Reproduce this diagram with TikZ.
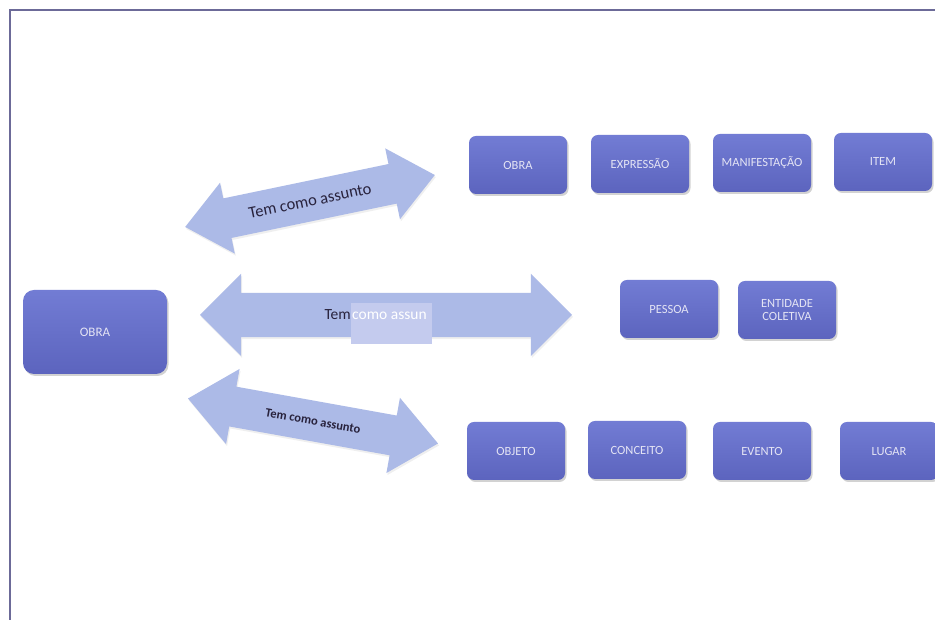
\documentclass[tikz,border=0pt]{standalone}
\usepackage{fontspec}
\setmainfont{Carlito}
\usetikzlibrary{shapes.arrows,shadows}
\definecolor{boxtop}{RGB}{114,124,212}
\definecolor{boxbot}{RGB}{92,100,190}
\definecolor{boxtext}{RGB}{228,228,244}
\definecolor{arrowfill}{RGB}{172,186,231}
\definecolor{framecol}{RGB}{108,106,152}
\definecolor{patchfill}{RGB}{196,203,238}
\definecolor{labeltext}{RGB}{40,34,60}
\tikzset{
	entity/.style={
			rounded corners=7pt, top color=boxtop, bottom color=boxbot,
			text=boxtext, minimum width=98pt, minimum height=58pt, align=center,
			font=\fontsize{12.5}{13}\selectfont,
			drop shadow={opacity=0.35, shadow xshift=1.5pt, shadow yshift=-2pt}
		},
	relation/.style={
			double arrow, fill=arrowfill, inner xsep=0pt, minimum width=0pt,
			drop shadow={opacity=0.12, shadow xshift=1pt, shadow yshift=-2pt}
		},
	rellabel/.style={text=labeltext, font=\fontsize{#1}{#1}\selectfont}
}

\begin{document}
\begin{tikzpicture}[x=1pt,y=1pt]
		\useasboundingbox (0,0) rectangle (935,620);
		\fill[white] (0,0) rectangle (935,620);
		\draw [color=framecol,line width=2pt] (10,0) -- (10,610) -- (935,610);

		% the three relations
		\node [relation, rotate=11.75, inner ysep=20pt, double arrow head extend=16pt,
			double arrow tip angle=80, minimum height=255pt] (topArrow) at (310,419) {};
		\node [relation, inner ysep=22pt, double arrow head extend=19pt,
			double arrow tip angle=90, minimum height=372pt] (midArrow) at (386,305) {};
		\node [relation, rotate=-10.2, inner ysep=20pt, double arrow head extend=18pt,
			double arrow tip angle=80, minimum height=254pt] (lowArrow) at (313,199) {};

		\node [rellabel=16.5, rotate=11.75] (topLabel) at (topArrow.center) {Tem como assunto};
		\node [rellabel=15.5, anchor=base east, inner sep=0pt] (midLabel) at (351,300) {Tem};
		\node [fill=patchfill, minimum width=81pt, minimum height=41pt, inner sep=0pt] (midPatch) at (391.5,296.5) {};
		\node [text=white, font=\fontsize{15.5}{15.5}\selectfont, anchor=base west, inner sep=0pt] (midRest) at (352,300) {como assun};
		\node [text=labeltext, rotate=-10.2, font=\fontsize{12.5}{12.5}\selectfont\bfseries] (lowLabel) at (lowArrow.center) {Tem como assunto};

		% the work
		\node [entity, minimum width=144pt, minimum height=84pt, rounded corners=11pt,
			font=\fontsize{13}{13}\selectfont] (obra) at (95,288) {OBRA};

		% first group
		\node [entity] (obraB) at (518,455) {OBRA};
		\node [entity] (expressao) at (640,456) {EXPRESSÃO};
		\node [entity] (manifestacao) at (762,457) {MANIFESTAÇÃO};
		\node [entity] (item) at (883,458) {ITEM};

		% second group
		\node [entity] (pessoa) at (669,311) {PESSOA};
		\node [entity] (entidade) at (787,310) {ENTIDADE\\COLETIVA};

		% third group
		\node [entity] (objeto) at (516,169) {OBJETO};
		\node [entity] (conceito) at (637,170) {CONCEITO};
		\node [entity] (evento) at (762,169) {EVENTO};
		\node [entity] (lugar) at (889,169) {LUGAR};
	\end{tikzpicture}
\end{document}
